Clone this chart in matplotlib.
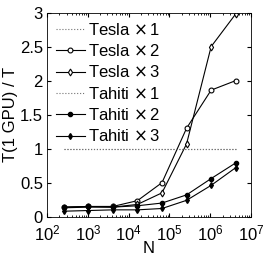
import numpy as np
import matplotlib
matplotlib.use('Agg')
import matplotlib.pyplot as plt
from matplotlib.ticker import LogLocator, NullFormatter

plt.rcParams['font.family'] = ['Liberation Sans', 'DejaVu Sans']
plt.rcParams['mathtext.fontset'] = 'dejavusans'

N = [256, 1024, 4096, 16384, 65536, 262144, 1048576, 4194304]
tesla1 = [1, 1, 1, 1, 1, 1, 1, 1]
tesla2 = [0.14, 0.15, 0.15, 0.235, 0.5, 1.3, 1.86, 2.0]
tesla3 = [0.13, 0.14, 0.14, 0.18, 0.35, 1.07, 2.5, 2.98]
tahiti1 = [1, 1, 1, 1, 1, 1, 1, 1]
tahiti2 = [0.14, 0.15, 0.14, 0.16, 0.2, 0.32, 0.56, 0.79]
tahiti3 = [0.08, 0.09, 0.1, 0.1, 0.12, 0.24, 0.46, 0.72]

fig = plt.figure(figsize=(2.66, 2.57), dpi=100)
ax = fig.add_axes([0.177, 0.157, 0.767, 0.794])

lw = 0.8
ax.plot(N, tesla1, ':', color='0.45', lw=lw, label=r'Tesla $\times\,$1')
ax.plot(N, tesla2, '-o', color='k', lw=lw, ms=3.5, mfc='white', mew=0.8, label=r'Tesla $\times\,$2')
ax.plot(N, tesla3, '-d', color='k', lw=lw, ms=3.5, mfc='white', mew=0.8, label=r'Tesla $\times\,$3')
ax.plot(N, tahiti1, ':', color='0.45', lw=lw, label=r'Tahiti $\times\,$1')
ax.plot(N, tahiti2, '-o', color='k', lw=lw, ms=3, label=r'Tahiti $\times\,$2')
ax.plot(N, tahiti3, '-d', color='k', lw=lw, ms=3, label=r'Tahiti $\times\,$3')

ax.set_xscale('log')
ax.set_xlim(1e2, 1e7)
ax.set_ylim(0, 3)
ax.set_xticks([1e2, 1e3, 1e4, 1e5, 1e6, 1e7])
ax.xaxis.set_minor_locator(LogLocator(base=10, subs=np.arange(2, 10), numticks=20))
ax.xaxis.set_minor_formatter(NullFormatter())
ax.set_yticks([0, 0.5, 1, 1.5, 2, 2.5, 3])
ax.set_yticklabels(['0', '0.5', '1', '1.5', '2', '2.5', '3'])
ax.tick_params(which='both', direction='in', top=True, right=True, labelsize=12)
ax.tick_params(which='major', length=3)
ax.tick_params(which='minor', length=1.5)
ax.tick_params(axis='x', pad=5)
ax.tick_params(axis='y', pad=3)
for s in ax.spines.values():
    s.set_linewidth(0.6)

ax.set_xlabel('N', fontsize=12, labelpad=-2)
ax.set_ylabel('T(1 GPU) / T', fontsize=12, labelpad=1)

ax.legend(loc='upper left', frameon=False, fontsize=12, handlelength=1.7,
          handletextpad=0.2, labelspacing=0.32, borderaxespad=0.15)

fig.savefig('out.png', dpi=100)
